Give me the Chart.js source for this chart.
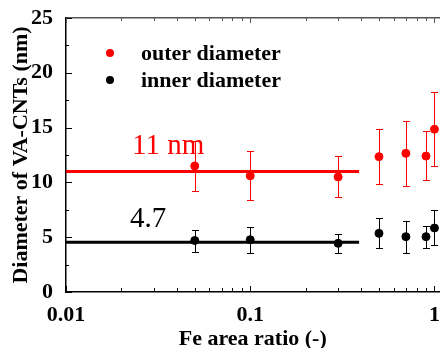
<!DOCTYPE html>
<html>
<head>
<meta charset="utf-8">
<script src="https://cdn.jsdelivr.net/npm/chart.js@4"></script>
<style>
  html, body { margin: 0; padding: 0; background: #fff; }
  #wrap { width: 444px; height: 348px; }
</style>
</head>
<body>
<div id="wrap"><canvas id="chart" width="444" height="348"></canvas></div>
<script>
"use strict"

// data
const feRatio = [0.05, 0.1, 0.3, 0.5, 0.7, 0.9, 1.0];
const outerDiameter = [11.5, 10.6, 10.5, 12.35, 12.65, 12.4, 14.85];
const outerLow = [9.25, 8.4, 8.7, 9.85, 9.7, 10.2, 11.5];
const outerHigh = [13.75, 12.9, 12.4, 14.85, 15.6, 14.7, 18.25];
const innerDiameter = [4.7, 4.77, 4.44, 5.35, 5.05, 5.05, 5.84];
const innerLow = [3.68, 3.56, 3.56, 4.0, 3.56, 4.0, 4.29];
const innerHigh = [5.66, 5.96, 5.32, 6.72, 6.5, 6.05, 7.45];
const avgRange = [0.01, 0.39];
const outerAvg = 11;
const innerAvg = 4.55;
const seriesNames = ["outer diameter", "inner diameter"];
const xTickLabels = [0.01, 0.1, 1];
const yTickLabels = [0, 5, 10, 15, 20, 25];

const X_MAX = 1.065;
const serif = "'Liberation Serif', 'Times New Roman', serif";
const RED = "#ff0000";
const BLACK = "#000000";

function toPoints(xs, ys) {
    return xs.map((v, i) => ({ x: v, y: ys[i] }));
}

const xTickValues = [];
for (let d = 0.01; d < 1; d *= 10) {
    for (let k = 1; k < 10; k++) xTickValues.push(+(k * d).toPrecision(3));
}
xTickValues.push(1);

const extras = {
    id: "extras",
    beforeDatasetsDraw(chart) {
        const ctx = chart.ctx;
        const x = chart.scales.x;
        const y = chart.scales.y;
        function errorBars(lo, hi, color) {
            ctx.save();
            ctx.strokeStyle = color;
            ctx.lineWidth = 1;
            for (let i = 0; i < feRatio.length; i++) {
                const px = Math.round(x.getPixelForValue(feRatio[i])) + 0.5;
                const y1 = Math.round(y.getPixelForValue(lo[i])) + 0.5;
                const y2 = Math.round(y.getPixelForValue(hi[i])) + 0.5;
                ctx.beginPath();
                ctx.moveTo(px, y1); ctx.lineTo(px, y2);
                ctx.moveTo(px - 3.5, y1); ctx.lineTo(px + 3.5, y1);
                ctx.moveTo(px - 3.5, y2); ctx.lineTo(px + 3.5, y2);
                ctx.stroke();
            }
            ctx.restore();
        }
        errorBars(outerLow, outerHigh, RED);
        errorBars(innerLow, innerHigh, BLACK);
    },
    afterDraw(chart) {
        const ctx = chart.ctx;
        const x = chart.scales.x;
        const y = chart.scales.y;
        const area = chart.chartArea;
        ctx.save();
        ctx.lineWidth = 1;
        // inward tick marks
        ctx.strokeStyle = BLACK;
        ctx.beginPath();
        xTickValues.forEach(v => {
            const px = Math.round(x.getPixelForValue(v)) + 0.5;
            const len = xTickLabels.includes(v) ? 6 : 4;
            ctx.moveTo(px, area.bottom); ctx.lineTo(px, area.bottom - len);
        });
        for (let v = 0; v <= 25; v += 2.5) {
            const py = Math.round(y.getPixelForValue(v)) + 0.5;
            const len = yTickLabels.includes(v) ? 6 : 3;
            ctx.moveTo(area.left, py); ctx.lineTo(area.left + len, py);
        }
        ctx.stroke();
        ctx.strokeStyle = "#555";
        ctx.beginPath();
        xTickValues.forEach(v => {
            const px = Math.round(x.getPixelForValue(v)) + 0.5;
            const len = xTickLabels.includes(v) ? 5 : 3;
            ctx.moveTo(px, area.top); ctx.lineTo(px, area.top + len);
        });
        ctx.stroke();

        // average labels
        ctx.textBaseline = "alphabetic";
        ctx.textAlign = "left";
        ctx.font = "29px " + serif;
        ctx.fillStyle = RED;
        ctx.fillText(outerAvg + " nm", 132, 154);
        ctx.fillStyle = BLACK;
        ctx.fillText(String(4.7), 130, 227);

        // legend
        const legend = [[seriesNames[0], RED, 53], [seriesNames[1], BLACK, 80]];
        ctx.font = "bold 22px " + serif;
        ctx.textBaseline = "middle";
        legend.forEach(([name, color, ly]) => {
            ctx.fillStyle = color;
            ctx.beginPath();
            ctx.arc(110, ly, 4, 0, Math.PI * 2);
            ctx.fill();
            ctx.fillStyle = BLACK;
            ctx.fillText(name, 141, ly + 1);
        });
        ctx.restore();
    }
};

const data = {
    datasets: [
        {
            label: seriesNames[0],
            data: toPoints(feRatio, outerDiameter),
            backgroundColor: RED,
            borderColor: RED,
            pointRadius: 4,
            showLine: false,
            order: 1,
        },
        {
            label: seriesNames[1],
            data: toPoints(feRatio, innerDiameter),
            backgroundColor: BLACK,
            borderColor: BLACK,
            pointRadius: 4,
            showLine: false,
            order: 2,
        },
        {
            label: "outer average",
            data: toPoints(avgRange, [outerAvg, outerAvg]),
            borderColor: RED,
            borderWidth: 3,
            pointRadius: 0,
            showLine: true,
            order: 3,
        },
        {
            label: "inner average",
            data: toPoints(avgRange, [innerAvg, innerAvg]),
            borderColor: BLACK,
            borderWidth: 3,
            pointRadius: 0,
            showLine: true,
            order: 4,
        },
    ]
};

const config = {
    type: "scatter",
    data: data,
    options: {
        responsive: false,
        animation: false,
        layout: { autoPadding: false, padding: { top: 18, right: 0, left: 0, bottom: 0 } },
        plugins: { legend: { display: false }, tooltip: { enabled: false } },
        scales: {
            x: {
                type: "logarithmic",
                position: "bottom",
                min: 0.01,
                max: X_MAX,
                afterBuildTicks: scale => {
                    scale.ticks = xTickValues.map(v => ({ value: v }));
                },
                afterFit: scale => { scale.height = 56; },
                grid: { display: false },
                border: { display: true, color: BLACK, width: 1.5 },
                ticks: {
                    autoSkip: false,
                    maxRotation: 0,
                    padding: 4,
                    color: BLACK,
                    font: { family: serif, size: 22, weight: "bold", lineHeight: 1 },
                    callback: v => xTickLabels.includes(v) ? String(v) : "",
                },
                title: {
                    display: true,
                    text: "Fe area ratio (-)",
                    color: BLACK,
                    padding: 0,
                    font: { family: serif, size: 22, weight: "bold", lineHeight: 0.8 },
                },
            },
            x2: {
                type: "logarithmic",
                position: "top",
                min: 0.01,
                max: X_MAX,
                afterFit: scale => { scale.height = 0; },
                grid: { display: false },
                border: { display: true, color: "#555", width: 1.5 },
                ticks: { display: false },
            },
            y: {
                type: "linear",
                min: 0,
                max: 25,
                afterBuildTicks: scale => {
                    scale.ticks = yTickLabels.map(v => ({ value: v }));
                },
                afterFit: scale => { scale.width = 66; },
                grid: { display: false },
                border: { display: true, color: BLACK, width: 1.5 },
                ticks: {
                    padding: 5,
                    color: BLACK,
                    font: { family: serif, size: 22, weight: "bold", lineHeight: 1 },
                },
                title: {
                    display: true,
                    text: "Diameter of VA-CNTs (nm)",
                    color: BLACK,
                    padding: { top: 8, bottom: 0 },
                    font: { family: serif, size: 22, weight: "bold", lineHeight: 1.2 },
                },
            },
        },
    },
    plugins: [extras],
};

const myChart = new Chart(document.getElementById("chart"), config);
</script>
</body>
</html>
